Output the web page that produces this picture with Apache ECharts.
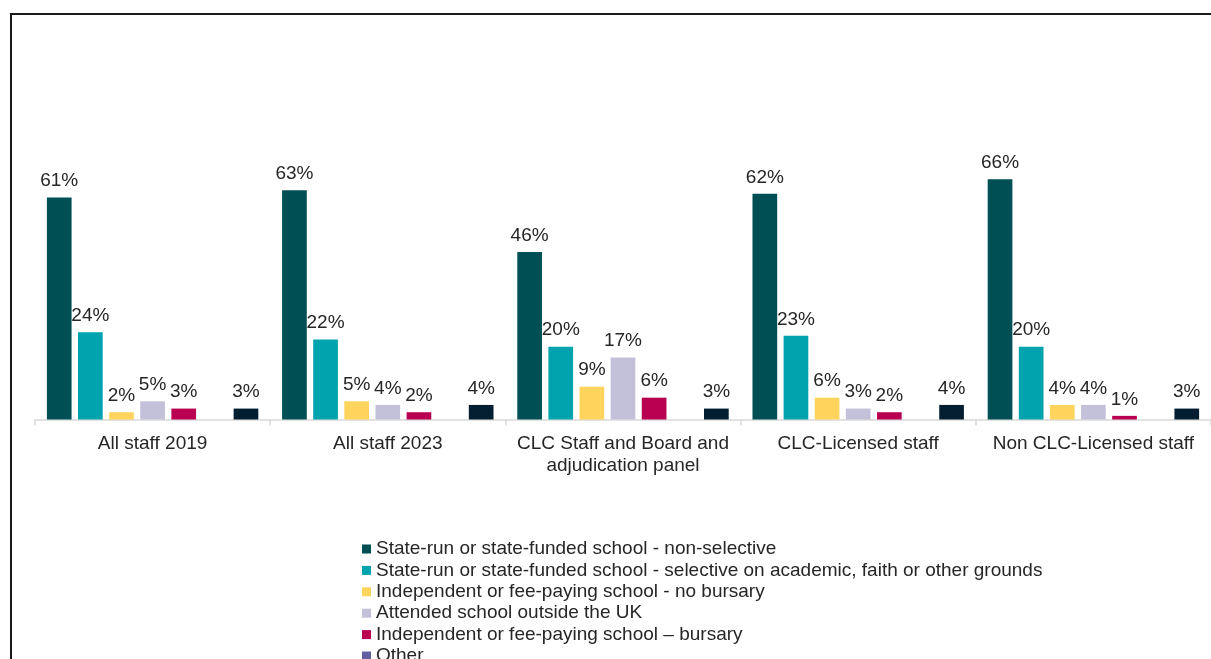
<!DOCTYPE html>
<html>
<head>
<meta charset="utf-8">
<script src="https://cdn.jsdelivr.net/npm/echarts@6/dist/echarts.min.js"></script>
<style>
  html, body { margin: 0; padding: 0; background: #ffffff; overflow: hidden; width: 1211px; height: 659px; }
  #chart { width: 1211px; height: 760px; }
</style>
</head>
<body>
<div id="chart"></div>
<script>
// Staff groups shown along the x axis
const categories = [
  'All staff 2019',
  'All staff 2023',
  'CLC Staff and Board and\nadjudication panel',
  'CLC-Licensed staff',
  'Non CLC-Licensed staff'
];

// School type series names
const seriesNames = [
  'State-run or state-funded school - non-selective',
  'State-run or state-funded school - selective on academic, faith or other grounds',
  'Independent or fee-paying school - no bursary',
  'Attended school outside the UK',
  'Independent or fee-paying school \u2013 bursary',
  'Other',
  'Prefer not to say'
];

// Percentages per school type, one value per staff group
const nonSelective   = [61, 63, 46, 62, 66];
const selective      = [24, 22, 20, 23, 20];
const noBursary      = [2, 5, 9, 6, 4];
const outsideUK      = [5, 4, 17, 3, 4];
const bursary        = [3, 2, 6, 2, 1];
const other          = [0, 0, 0, 0, 0];
const preferNotToSay = [3, 4, 3, 4, 3];

const seriesValues = [nonSelective, selective, noBursary, outsideUK, bursary, other, preferNotToSay];
const seriesColors = ['#004F54', '#00A3AE', '#FFD45C', '#C3C1DA', '#BA0050', '#625FA0', '#021E30'];

const chart = echarts.init(document.getElementById('chart'), null, { renderer: 'canvas' });

const textColor = '#262626';
const fontFamily = 'Liberation Sans, Arial, sans-serif';
const fontSize = 19;

const series = seriesValues.map((vals, i) => ({
  name: seriesNames[i],
  type: 'bar',
  data: vals,
  barWidth: 24.7,
  barGap: '26%',
  itemStyle: { color: seriesColors[i] },
  label: {
    show: true,
    position: 'top',
    distance: 7,
    color: textColor,
    fontSize: fontSize,
    fontFamily: fontFamily,
    formatter: p => (p.value ? p.value + '%' : '')
  },
  emphasis: { disabled: true }
}));

chart.setOption({
  animation: false,
  backgroundColor: '#ffffff',
  grid: {
    left: 35,
    top: 164.7,
    width: 1177.5,
    height: 254.8,
    containLabel: false
  },
  xAxis: {
    type: 'category',
    data: categories,
    axisLine: { show: true, lineStyle: { color: '#D9D9D9', width: 1.5 } },
    axisTick: { show: true, length: 6, lineStyle: { color: '#D9D9D9', width: 1.5 } },
    axisLabel: {
      color: textColor,
      fontSize: fontSize,
      fontFamily: fontFamily,
      margin: 14,
      lineHeight: 21.5,
      interval: 0
    }
  },
  yAxis: {
    type: 'value',
    min: 0,
    max: 70,
    show: false,
    splitLine: { show: false }
  },
  legend: {
    orient: 'vertical',
    left: 362,
    top: 539.5,
    height: 220,
    padding: 0,
    itemWidth: 9,
    itemHeight: 9,
    itemGap: 2.4,
    icon: 'rect',
    textStyle: {
      color: textColor,
      fontSize: fontSize,
      fontFamily: fontFamily,
      lineHeight: 19
    },
    selectedMode: false,
    data: seriesNames
  },
  graphic: [{
    type: 'rect',
    silent: true,
    shape: { x: 11, y: 14, width: 1400, height: 900 },
    style: { fill: 'none', stroke: '#1a1a1a', lineWidth: 2 }
  }],
  series: series
});
</script>
</body>
</html>
